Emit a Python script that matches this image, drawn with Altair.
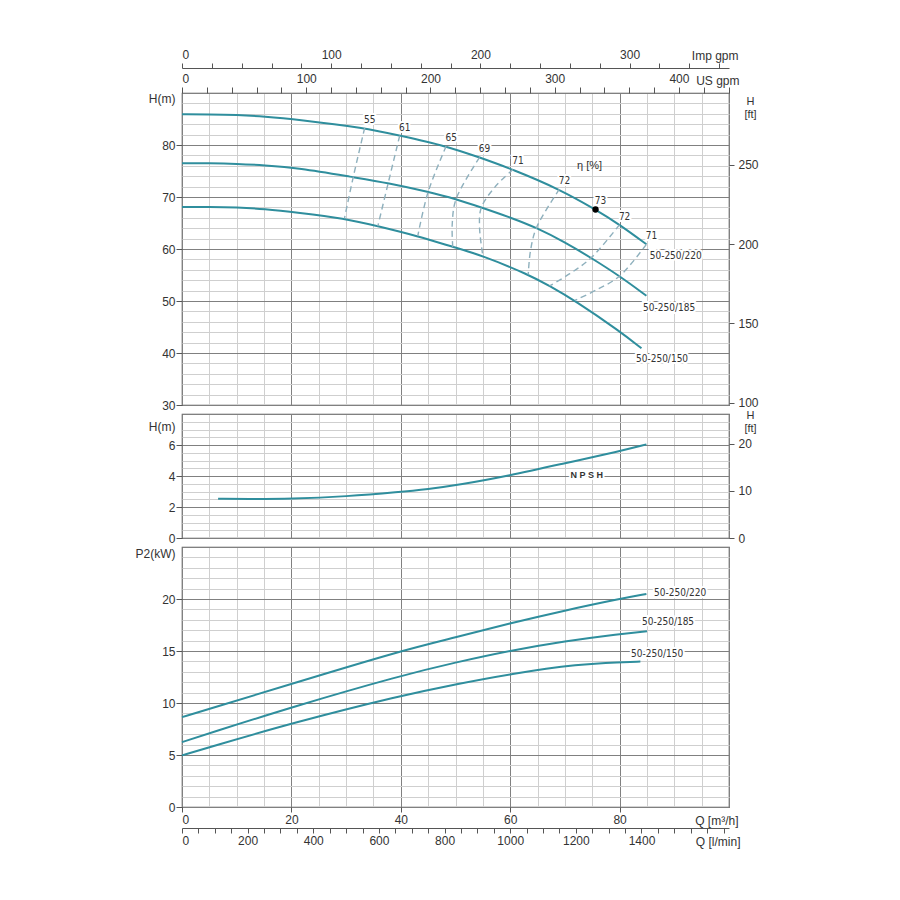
import altair as alt
import pandas as pd

# ---------------- data ----------------
# Head curves  Q [m3/h] -> H [m]
q220 = [0, 5, 10, 15, 21.2, 33.4, 39.8, 48.3, 54.4, 60.5, 69.0, 75.6, 80.0, 84.9]
h220 = [85.9, 85.9, 85.8, 85.5, 84.9, 83.3, 81.8, 79.8, 77.6, 75.3, 71.5, 67.6, 64.7, 60.9]
q185 = [0, 5, 10, 15, 21.2, 31.3, 37.7, 45.0, 50.1, 54.7, 60.2, 64.8, 70.0, 74.8, 80.0, 84.9]
h185 = [76.5, 76.5, 76.4, 76.1, 75.6, 73.8, 72.7, 71.0, 69.6, 68.0, 66.0, 64.1, 61.3, 58.3, 54.8, 51.0]
q150 = [0, 5, 10, 15, 21.2, 29.7, 35.8, 43.1, 49.5, 55.0, 63.3, 67.2, 71.8, 80.0, 84.0]
h150 = [68.1, 68.1, 68.0, 67.7, 67.0, 65.9, 64.4, 62.5, 60.4, 58.7, 55.1, 52.9, 50.1, 44.2, 40.9]

# Iso-efficiency dashed lines (Q, H)
eff_lines = {
    "e55": [(33.4, 83.3), (31.3, 73.8), (29.7, 65.9)],
    "e61": [(39.8, 81.8), (37.7, 72.7), (35.8, 64.4)],
    "e65": [(48.3, 79.8), (45.0, 71.0), (43.1, 62.5)],
    "e69": [(54.4, 77.6), (50.1, 69.6), (49.4, 64.7), (49.5, 60.4)],
    "e71a": [(60.5, 75.3), (57.2, 71.9), (54.7, 67.9), (54.4, 64.1), (55.0, 58.7)],
    "e72a": [(69.0, 71.5), (64.8, 64.1), (63.7, 59.6), (63.3, 55.1)],
    "e72b": [(80.0, 64.7), (74.8, 58.3), (70.9, 55.25), (67.2, 52.9)],
    "e71b": [(84.9, 60.9), (80.0, 54.8), (75.7, 52.1), (71.8, 50.1)],
}
eff_label_q = [33.4, 39.8, 48.3, 54.4, 60.5, 69.0, 75.6, 80.0, 84.9]
eff_label_h = [83.3, 81.8, 79.8, 77.6, 75.3, 71.5, 67.6, 64.7, 60.9]
eff_label_txt = ["55", "61", "65", "69", "71", "72", "73", "72", "71"]
best_q, best_h = [75.6], [67.6]

models = ["50-250/220", "50-250/185", "50-250/150"]
head_lbl_q = [85.5, 84.3, 83.0]
head_lbl_h = [58.7, 48.7, 38.8]

# NPSH  Q -> H [m]
q_npsh = [6.6, 12, 19.9, 30.1, 39.7, 44.9, 50.7, 59.9, 69.1, 80.1, 84.9]
h_npsh = [2.53, 2.52, 2.53, 2.68, 2.96, 3.15, 3.43, 4.03, 4.75, 5.61, 6.04]

# Power  Q -> P2 [kW]
qp220 = [0, 5.1, 20, 40.1, 50, 59.9, 70, 79.9, 84.9]
p220 = [8.64, 9.44, 11.84, 15.04, 16.3, 17.66, 18.9, 20.0, 20.48]
qp185 = [0, 5.1, 20, 40, 50, 60, 70, 80, 85]
p185 = [6.24, 7.1, 9.6, 12.64, 13.9, 15.04, 15.95, 16.64, 16.9]
qp150 = [0, 5.1, 20, 40, 50, 60, 72.8, 80, 83.8]
p150 = [4.96, 5.76, 8.06, 10.72, 11.8, 12.8, 13.76, 13.92, 13.98]
pow_lbl_q = [86.3, 84.1, 82.1]
pow_lbl_p = [20.6, 17.8, 14.7]

# secondary-axis ticks (in their own units)
us_gpm_ticks = list(range(0, 441, 20))      # labelled every 100
imp_gpm_ticks = list(range(0, 361, 20))     # labelled every 100
lmin_ticks = list(range(0, 1651, 50))       # labelled every 200 up to 1400
ft_top_ticks = [100, 150, 200, 250]
ft_mid_ticks = [0, 10, 20]
US_PER_M3H = 4.40287
IMP_PER_M3H = 3.66615
LMIN_PER_M3H = 1000 / 60
M_PER_FT = 0.3048

# ---------------- style ----------------
W = 547
FONT = "Liberation Sans"
NARROW = "'DejaVu Sans Condensed', 'Liberation Sans Narrow', 'Liberation Sans', sans-serif"
TEAL = "#2f8e9d"
DASH = "#8eb0bd"
MAJOR = "#808080"
MINOR = "#cfcfcf"
TXT = "#333333"

QSCALE = alt.Scale(domain=[0, 100], nice=False, zero=False)


def x_grid_axis(show_labels):
    kw = dict(
        values=list(range(0, 101, 5)),
        grid=True,
        gridColor={"condition": {"test": "datum.value % 20 === 0", "value": MAJOR}, "value": MINOR},
        gridWidth=1,
        domain=False,
        labelOverlap=False,
    )
    if show_labels:
        kw.update(
            labelExpr="datum.value % 20 === 0 && datum.value < 100 ? datum.label : ''",
            tickOpacity={"condition": {"test": "datum.value % 20 === 0 && datum.value < 100", "value": 1}, "value": 0},
            tickSize=5, labelPadding=2,
            title="Q [m³/h]", titleX=W + 9, titleY=13, titleAlign="right", titleBaseline="middle",
        )
    else:
        kw.update(labels=False, ticks=False, title=None)
    return alt.Axis(**kw)


def y_grid_axis(vals, major, top, title, title_y):
    test_lab = f"datum.value % {major} === 0 && datum.value < {top}"
    return alt.Axis(
        values=vals,
        grid=True,
        gridColor={"condition": {"test": f"datum.value % {major} === 0", "value": MAJOR}, "value": MINOR},
        gridWidth=1,
        domain=False,
        labelExpr=f"{test_lab} ? format(datum.value, 'd') : ''",
        tickOpacity={"condition": {"test": test_lab, "value": 1}, "value": 0},
        tickSize=6, labelPadding=1, labelOverlap=False,
        title=title, titleAngle=0, titleAlign="right", titleBaseline="middle",
        titleX=-7, titleY=title_y,
    )


def ft_axis(ticks, title_y):
    return alt.Axis(
        orient="right", values=[t * M_PER_FT for t in ticks], grid=False, domain=False,
        labelExpr=f"format(round(datum.value / {M_PER_FT}), 'd')",
        tickSize=5, labelPadding=4, labelOverlap=False,
        title=["H", "[ft]"], titleAngle=0, titleAlign="center", titleFontSize=11,
        titleBaseline="middle", titleX=21, titleY=title_y, titleLineHeight=13,
    )


def sec_x_axis(ticks, factor, every, maxlab, orient, offset, title, title_x, title_y, domain):
    lab = f"round(datum.value * {factor})"
    return alt.Axis(
        orient=orient, offset=offset, values=[t / factor for t in ticks],
        labelExpr=f"{lab} % {every} === 0 && {lab} <= {maxlab} ? format({lab}, 'd') : ''",
        grid=False, domain=domain, tickSize=5 if domain else 6, labelPadding=2, labelOverlap=False,
        title=title, titleX=title_x, titleY=title_y, titleAlign="right", titleBaseline="middle",
    )


def halo_text(df, x, y, t, **kw):
    base = alt.Chart(df)
    enc = dict(x=x, y=y, text=t)
    halo = base.mark_text(stroke="white", strokeWidth=4, fill="white", **kw).encode(**enc)
    txt = base.mark_text(color=TXT, **kw).encode(**enc)
    return [halo, txt]


def axis_carrier(xfield, yfield, x_enc, y_enc):
    # an invisible point that only carries an extra axis
    return alt.Chart(pd.DataFrame({xfield: [0.0], yfield: [0.0]})).mark_point(opacity=0).encode(
        x=x_enc, y=y_enc)


# ---------------- top panel: head ----------------
head_df = pd.concat([
    pd.DataFrame({"Q": q220, "H": h220, "model": models[0]}),
    pd.DataFrame({"Q": q185, "H": h185, "model": models[1]}),
    pd.DataFrame({"Q": q150, "H": h150, "model": models[2]}),
])
eff_rows = []
for name, pts in eff_lines.items():
    for i, (q, h) in enumerate(pts):
        eff_rows.append({"Q": q, "H": h, "line": name, "i": i})
eff_df = pd.DataFrame(eff_rows)

HSCALE = alt.Scale(domain=[30, 90], nice=False, zero=False)
XH = alt.X("Q:Q", scale=QSCALE, axis=x_grid_axis(False))
YH = alt.Y("H:Q", scale=HSCALE, axis=y_grid_axis(list(range(30, 91, 2)), 10, 90, "H(m)", 5))
XH0 = alt.X("Q:Q", scale=QSCALE, axis=None)
YH0 = alt.Y("H:Q", scale=HSCALE, axis=None)

head_lines = alt.Chart(head_df).mark_line(color=TEAL, strokeWidth=2, interpolate="basis").encode(
    x=XH, y=YH, detail="model:N")
eff_plot = alt.Chart(eff_df).mark_line(color=DASH, strokeWidth=1.4, strokeDash=[6, 4],
                                       interpolate="catmull-rom").encode(
    x=XH0, y=YH0, detail="line:N", order="i:Q")
eff_lab_df = pd.DataFrame({"Q": eff_label_q, "H": eff_label_h, "t": eff_label_txt})
eff_labels = halo_text(eff_lab_df, XH0, YH0, "t:N", font=NARROW, fontSize=10, dx=5, dy=-8)
best_pt = alt.Chart(pd.DataFrame({"Q": best_q, "H": best_h})).mark_point(
    filled=True, color="black", size=40, opacity=1).encode(x=XH0, y=YH0)
eta_lab = alt.Chart(pd.DataFrame({"Q": [74.5], "H": [76.0], "t": ["η [%]"]})).mark_text(
    font=FONT, fontSize=11, color=TXT).encode(x=XH0, y=YH0, text="t:N")
head_lab_df = pd.DataFrame({"Q": head_lbl_q, "H": head_lbl_h, "t": models})
head_labels = halo_text(head_lab_df, XH0, YH0, "t:N", font=NARROW, fontSize=10, align="left")

ft_top = axis_carrier("Q", "H", XH0, alt.Y("H:Q", scale=HSCALE, axis=ft_axis(ft_top_ticks, 8)))
us_ax = axis_carrier("Q", "H", alt.X("Q:Q", scale=QSCALE, axis=sec_x_axis(
    us_gpm_ticks, US_PER_M3H, 100, 400, "top", 0, "US gpm", W + 10, -13, False)), YH0)
imp_ax = axis_carrier("Q", "H", alt.X("Q:Q", scale=QSCALE, axis=sec_x_axis(
    imp_gpm_ticks, IMP_PER_M3H, 100, 300, "top", 25, "Imp gpm", W + 9, -13, True)), YH0)

top = alt.layer(
    head_lines, eff_plot, *eff_labels, best_pt, eta_lab, *head_labels, ft_top, us_ax, imp_ax,
).resolve_axis(x="independent", y="independent").properties(width=W, height=312)

# ---------------- middle panel: NPSH ----------------
npsh_df = pd.DataFrame({"Q": q_npsh, "H": h_npsh})
NSCALE = alt.Scale(domain=[0, 8], nice=False, zero=False)
XN = alt.X("Q:Q", scale=QSCALE, axis=x_grid_axis(False))
YN = alt.Y("H:Q", scale=NSCALE, axis=y_grid_axis([i * 0.5 for i in range(17)], 2, 8, "H(m)", 12))
XN0 = alt.X("Q:Q", scale=QSCALE, axis=None)
YN0 = alt.Y("H:Q", scale=NSCALE, axis=None)
npsh_line = alt.Chart(npsh_df).mark_line(color=TEAL, strokeWidth=2, interpolate="basis").encode(x=XN, y=YN)
npsh_lab = halo_text(pd.DataFrame({"Q": [74.0], "H": [4.05], "t": ["N P S H"]}), XN0, YN0, "t:N",
                     font=FONT, fontSize=9, fontWeight="bold")
ft_mid = axis_carrier("Q", "H", XN0, alt.Y("H:Q", scale=NSCALE, axis=ft_axis(ft_mid_ticks, 1)))
mid = alt.layer(npsh_line, *npsh_lab, ft_mid).resolve_axis(
    x="independent", y="independent").properties(width=W, height=124)

# ---------------- bottom panel: power ----------------
pow_df = pd.concat([
    pd.DataFrame({"Q": qp220, "P": p220, "model": models[0]}),
    pd.DataFrame({"Q": qp185, "P": p185, "model": models[1]}),
    pd.DataFrame({"Q": qp150, "P": p150, "model": models[2]}),
])
PSCALE = alt.Scale(domain=[0, 25], nice=False, zero=False)
XP = alt.X("Q:Q", scale=QSCALE, axis=x_grid_axis(True))
YP = alt.Y("P:Q", scale=PSCALE, axis=y_grid_axis(list(range(0, 26)), 5, 25, "P2(kW)", 6))
XP0 = alt.X("Q:Q", scale=QSCALE, axis=None)
YP0 = alt.Y("P:Q", scale=PSCALE, axis=None)
pow_lines = alt.Chart(pow_df).mark_line(color=TEAL, strokeWidth=2, interpolate="basis").encode(
    x=XP, y=YP, detail="model:N")
pow_lab = halo_text(pd.DataFrame({"Q": pow_lbl_q, "P": pow_lbl_p, "t": models}), XP0, YP0, "t:N",
                    font=NARROW, fontSize=10, align="left")
lmin_ax = axis_carrier("Q", "P", alt.X("Q:Q", scale=QSCALE, axis=sec_x_axis(
    lmin_ticks, LMIN_PER_M3H, 200, 1400, "bottom", 21, "Q [l/min]", W + 11, 13, True)), YP0)
bot = alt.layer(pow_lines, *pow_lab, lmin_ax).resolve_axis(
    x="independent", y="independent").properties(width=W, height=260)

chart = alt.vconcat(top, mid, bot, spacing=9, bounds="flush").properties(
    padding={"left": 126, "top": 39, "right": 10, "bottom": 10},
    background="white",
).configure_view(stroke="#555555", strokeWidth=1.2).configure_axis(
    labelFont=FONT, titleFont=FONT, labelFontSize=12, titleFontSize=12,
    labelColor=TXT, titleColor=TXT, titleFontWeight="normal",
    tickColor="#555555", domainColor="#555555",
)

chart.save("out.html", embed_options={"renderer": "svg", "actions": False})
